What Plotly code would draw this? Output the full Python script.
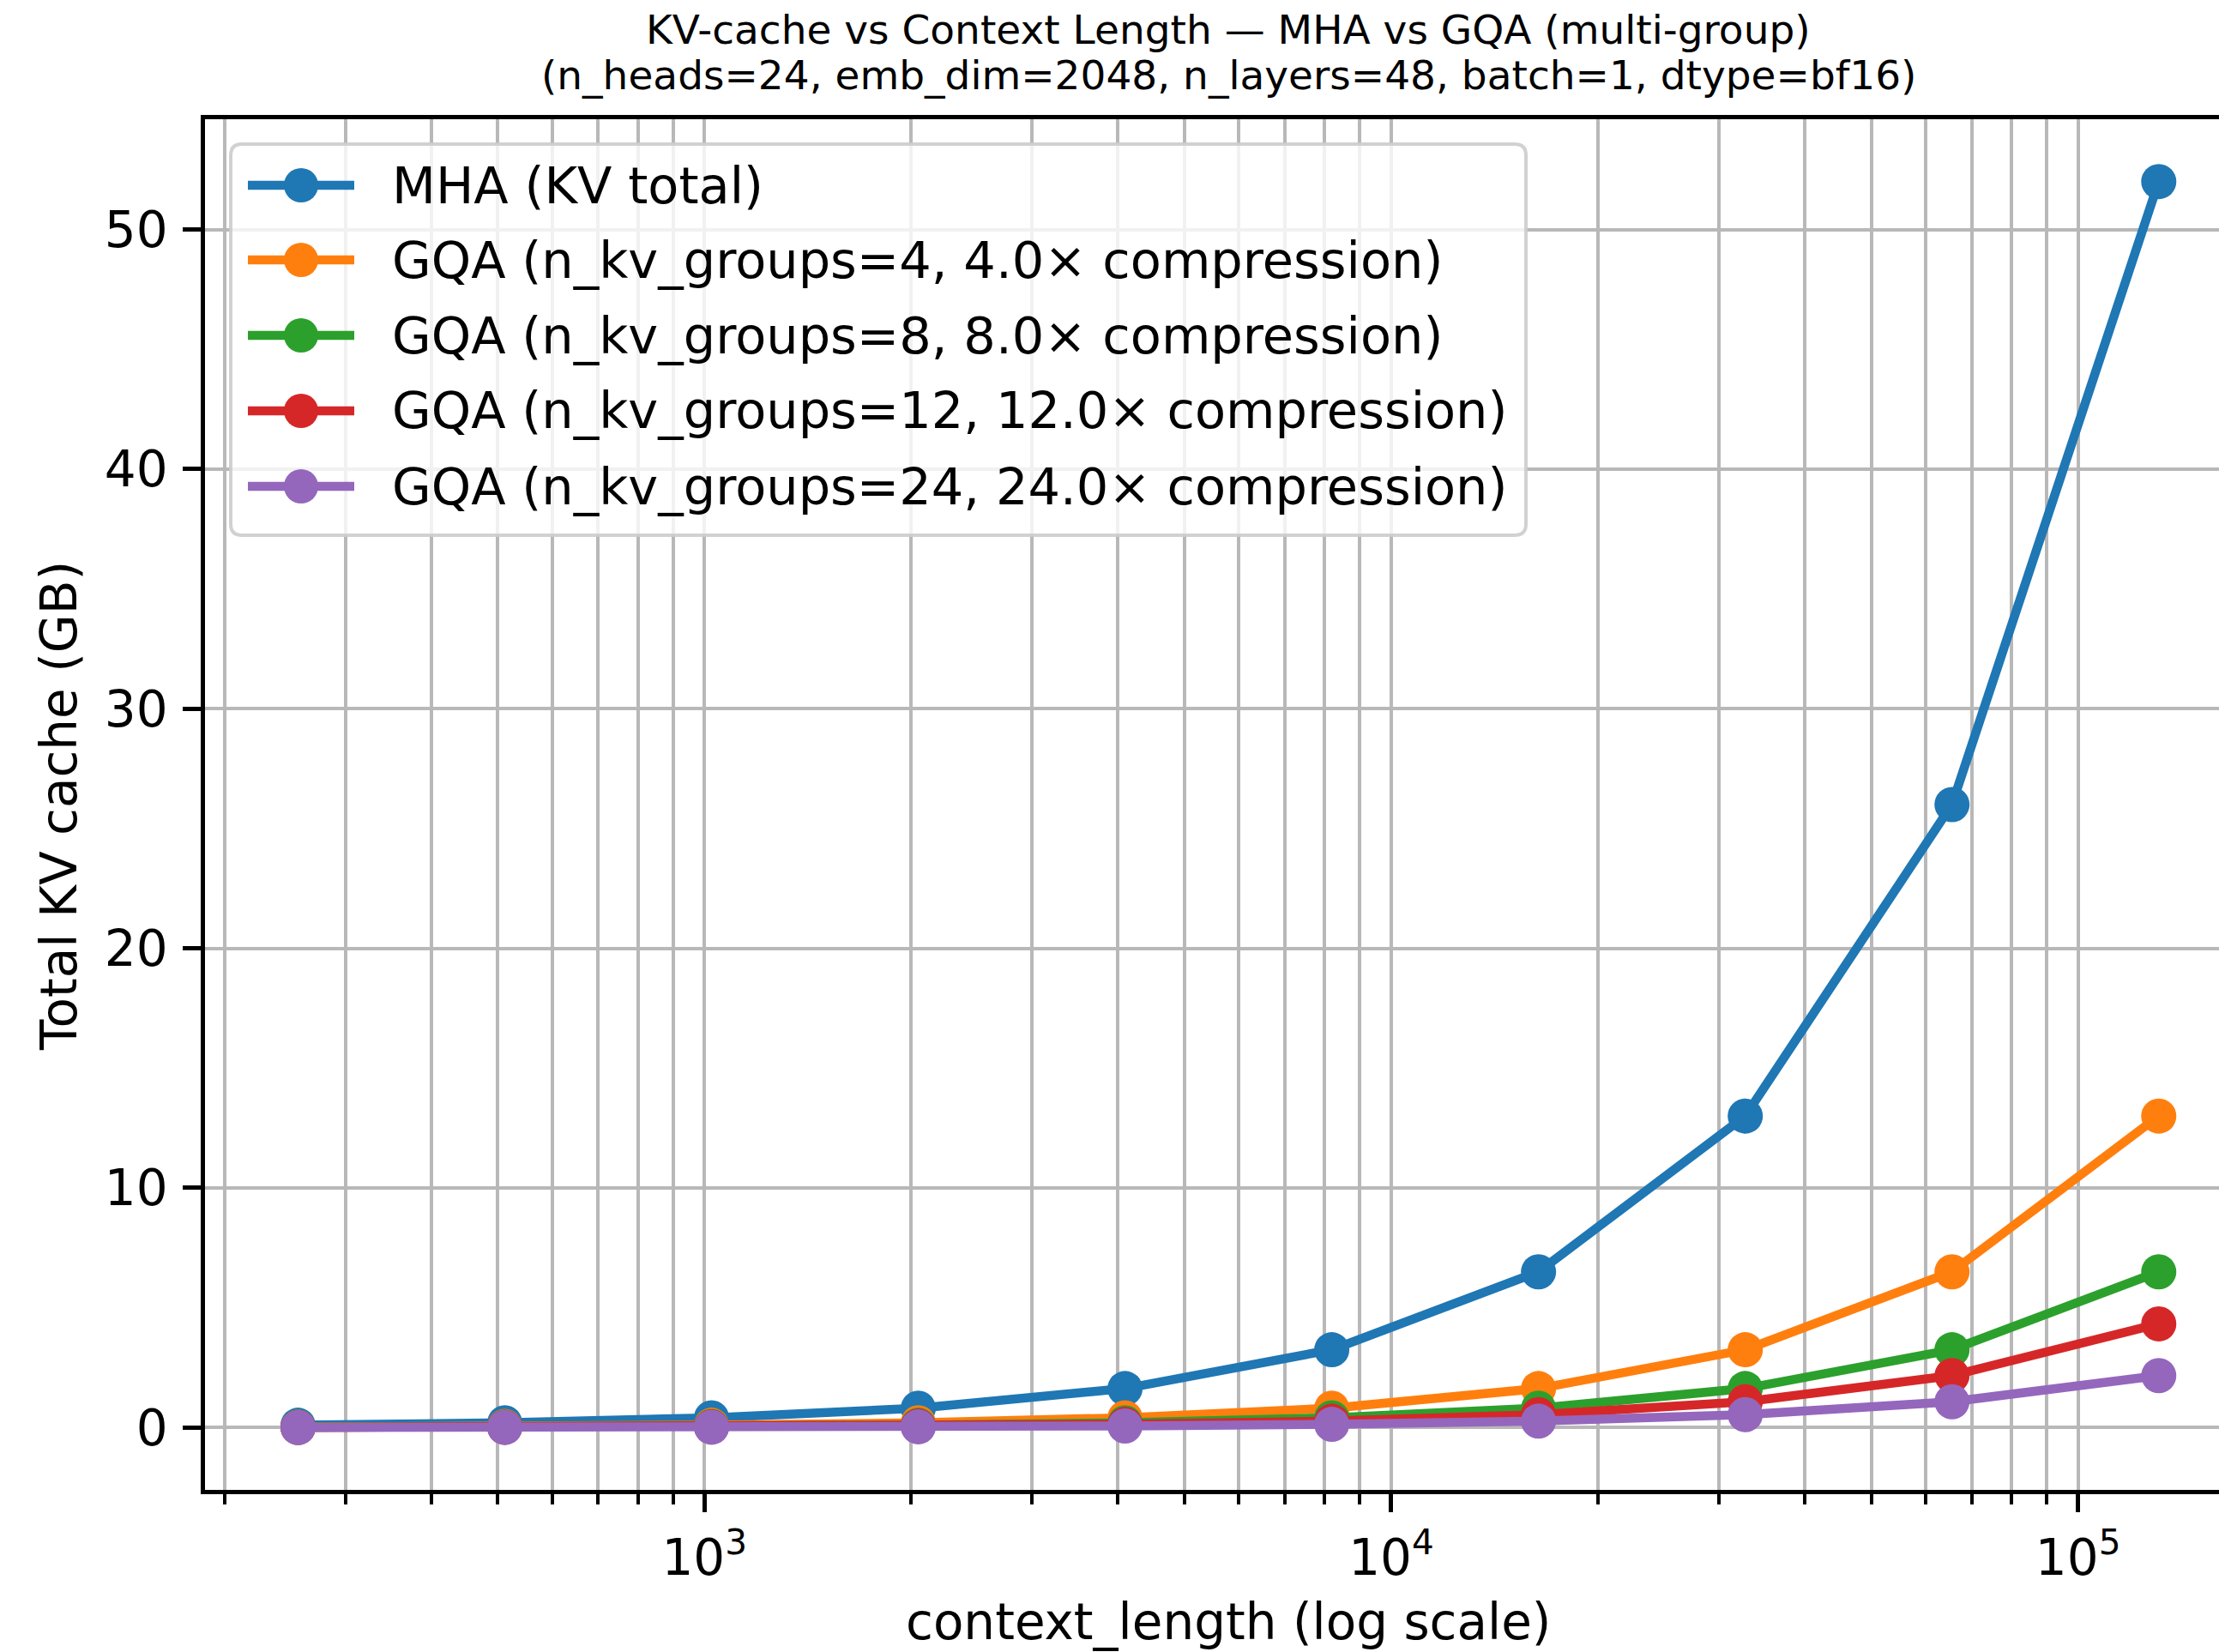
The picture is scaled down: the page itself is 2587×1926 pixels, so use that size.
import plotly.graph_objects as go

# ---- data -------------------------------------------------------------
context_length = [256, 512, 1024, 2048, 4096, 8192, 16384, 32768, 65536, 131072]

mha_gb = [0.10, 0.20, 0.41, 0.81, 1.63, 3.25, 6.50, 13.0, 26.0, 52.0]
gqa4_gb = [0.025, 0.05, 0.10, 0.20, 0.41, 0.81, 1.63, 3.25, 6.50, 13.0]
gqa8_gb = [0.013, 0.025, 0.05, 0.10, 0.20, 0.41, 0.81, 1.63, 3.25, 6.50]
gqa12_gb = [0.008, 0.017, 0.034, 0.068, 0.135, 0.27, 0.54, 1.08, 2.17, 4.33]
gqa24_gb = [0.004, 0.008, 0.017, 0.034, 0.068, 0.135, 0.27, 0.54, 1.08, 2.17]

series_names = [
    "MHA (KV total)",
    "GQA (n_kv_groups=4, 4.0× compression)",
    "GQA (n_kv_groups=8, 8.0× compression)",
    "GQA (n_kv_groups=12, 12.0× compression)",
    "GQA (n_kv_groups=24, 24.0× compression)",
]
series_values = [mha_gb, gqa4_gb, gqa8_gb, gqa12_gb, gqa24_gb]
series_colors = ["#1f77b4", "#ff7f0e", "#2ca02c", "#d62728", "#9467bd"]

y_ticks = [0, 10, 20, 30, 40, 50]
x_major_ticks = [1000, 10000, 100000]
x_major_labels = ["10<sup>3</sup>", "10<sup>4</sup>", "10<sup>5</sup>"]

title_line1 = "KV-cache vs Context Length — MHA vs GQA (multi-group)"
title_line2 = "(n_heads=24, emb_dim=2048, n_layers=48, batch=1, dtype=bf16)"
x_title = "context_length (log scale)"
y_title = "Total KV cache (GB)"

# ---- geometry (pixels) ------------------------------------------------
W, H = 2587, 1926
ML, MR, MT, MB = 239, 0, 139, 189
PW = W - ML - MR
PH = H - MT - MB
FONT = "DejaVu Sans"
GRID = "#b8b8b8"


def px_x(x):
    return (x - ML) / PW


def px_y(y):
    return (H - MB - y) / PH


fig = go.Figure()

for name, vals, col in zip(series_names, series_values, series_colors):
    fig.add_trace(go.Scatter(
        x=context_length, y=vals, name=name, mode="lines+markers",
        line=dict(color=col, width=10.5),
        marker=dict(color=col, size=41, line=dict(width=0)),
        showlegend=False, cliponaxis=False,
    ))

minor_vals = [m * 10 ** e for e in (2, 3, 4) for m in range(2, 10)]

fig.update_xaxes(
    type="log", range=[2.2728, 2.2728 + PW / 800.7],
    tickmode="array", tickvals=x_major_ticks, ticktext=x_major_labels,
    ticks="outside", ticklen=21, tickwidth=4.7, tickcolor="black",
    showgrid=True, gridcolor=GRID, gridwidth=4,
    minor=dict(tickmode="array", tickvals=minor_vals, ticks="outside",
               ticklen=12, tickwidth=3.5, tickcolor="black",
               showgrid=True, gridcolor=GRID, gridwidth=4),
    showline=True, linecolor="black", linewidth=4.7, mirror=True,
    tickfont=dict(family=FONT, size=58, color="black"),
    ticklabelstandoff=4, automargin=False, zeroline=False,
)
fig.update_yaxes(
    range=[-2.6, 54.6], tickmode="array", tickvals=y_ticks,
    ticks="outside", ticklen=21, tickwidth=4.7, tickcolor="black",
    showgrid=True, gridcolor=GRID, gridwidth=4, zeroline=False,
    showline=True, linecolor="black", linewidth=4.7, mirror=False,
    tickfont=dict(family=FONT, size=58, color="black"),
    ticklabelstandoff=6, automargin=False,
)

annotations = [
    dict(text=title_line1, x=px_x(1432), y=px_y(35), xref="paper", yref="paper",
         xanchor="center", yanchor="middle", showarrow=False,
         font=dict(family=FONT, size=47, color="black")),
    dict(text=title_line2, x=px_x(1432), y=px_y(87), xref="paper", yref="paper",
         xanchor="center", yanchor="middle", showarrow=False,
         font=dict(family=FONT, size=47, color="black")),
    dict(text=x_title, x=px_x(1432), y=px_y(1891), xref="paper", yref="paper",
         xanchor="center", yanchor="middle", showarrow=False,
         font=dict(family=FONT, size=58, color="black")),
    dict(text=y_title, x=px_x(69), y=px_y(940), xref="paper", yref="paper",
         xanchor="center", yanchor="middle", showarrow=False, textangle=-90,
         font=dict(family=FONT, size=58, color="black")),
]

# ---- legend box drawn with shapes ------------------------------------
lx0, lx1, ly0, ly1, r = 269, 1779, 168, 624, 13
rx, ry = r / PW, r / PH
X0, X1, Y0, Y1 = px_x(lx0), px_x(lx1), px_y(ly1), px_y(ly0)
box_path = (
    f"M{X0 + rx},{Y0} L{X1 - rx},{Y0} Q{X1},{Y0} {X1},{Y0 + ry} "
    f"L{X1},{Y1 - ry} Q{X1},{Y1} {X1 - rx},{Y1} L{X0 + rx},{Y1} "
    f"Q{X0},{Y1} {X0},{Y1 - ry} L{X0},{Y0 + ry} Q{X0},{Y0} {X0 + rx},{Y0} Z"
)
shapes = [dict(type="path", path=box_path, xref="paper", yref="paper",
               fillcolor="rgba(255,255,255,0.8)",
               line=dict(color="rgba(204,204,204,0.9)", width=4), layer="above")]

row_y = [216, 303, 391, 479, 567]
for name, col, yy in zip(series_names, series_colors, row_y):
    shapes.append(dict(type="line", xref="paper", yref="paper",
                       x0=px_x(289), x1=px_x(413), y0=px_y(yy), y1=px_y(yy),
                       line=dict(color=col, width=10.5), layer="above"))
    shapes.append(dict(type="circle", xref="paper", yref="paper",
                       x0=px_x(351 - 20), x1=px_x(351 + 20),
                       y0=px_y(yy + 20), y1=px_y(yy - 20),
                       fillcolor=col, line=dict(width=0), layer="above"))
    annotations.append(dict(text=name, x=px_x(455), y=px_y(yy), xref="paper",
                            yref="paper", xanchor="left", yanchor="middle",
                            showarrow=False,
                            font=dict(family=FONT, size=59, color="black")))

fig.update_layout(
    width=W, height=H,
    margin=dict(l=ML, r=MR, t=MT, b=MB, pad=0, autoexpand=False),
    paper_bgcolor="white", plot_bgcolor="white",
    showlegend=False, annotations=annotations, shapes=shapes,
    font=dict(family=FONT, color="black"),
)

fig.write_html("out.html")
